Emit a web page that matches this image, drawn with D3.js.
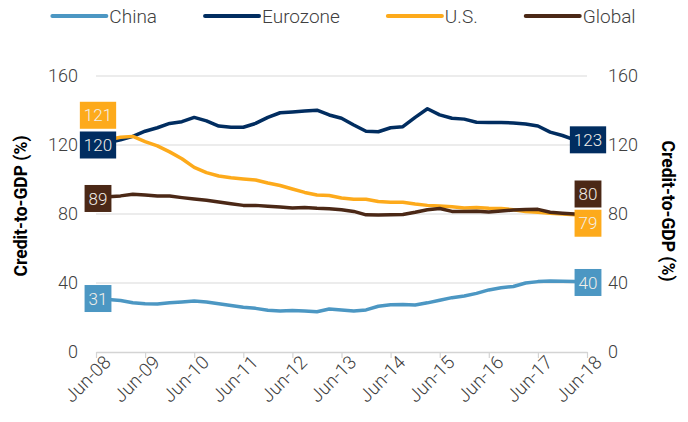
<!DOCTYPE html>
<html><head><meta charset="utf-8">
<script src="https://cdn.jsdelivr.net/npm/d3@7"></script>
<style>
html,body{margin:0;padding:0;background:#fff;}
svg{display:block;font-family:Roboto,"Noto Sans",sans-serif;}
</style></head>
<body><svg id="c" width="688" height="422"></svg>
<script>
// ---- data ----
const quarters = ["Jun-08","Sep-08","Dec-08","Mar-09","Jun-09","Sep-09","Dec-09","Mar-10","Jun-10","Sep-10","Dec-10","Mar-11","Jun-11","Sep-11","Dec-11","Mar-12","Jun-12","Sep-12","Dec-12","Mar-13","Jun-13","Sep-13","Dec-13","Mar-14","Jun-14","Sep-14","Dec-14","Mar-15","Jun-15","Sep-15","Dec-15","Mar-16","Jun-16","Sep-16","Dec-16","Mar-17","Jun-17","Sep-17","Dec-17","Mar-18","Jun-18"];
const tickLabels = ["Jun-08","Jun-09","Jun-10","Jun-11","Jun-12","Jun-13","Jun-14","Jun-15","Jun-16","Jun-17","Jun-18"];
const yTicks = [0,40,80,120,160];
const seriesNames = ["China","Eurozone","U.S.","Global"];
const china    = [31,30.5,29.8,28.5,28,27.8,28.5,29,29.5,29,28,27,26,25.3,24.2,23.8,24,23.8,23.3,24.9,24.3,23.8,24.4,26.5,27.4,27.5,27.2,28.5,30,31.5,32.5,34,36,37.2,38,40,40.8,41.1,41,40.8,40.3];
const eurozone = [120,121.5,123,125,128,130,132.5,133.5,136,134,131,130.3,130.3,132.5,136,138.7,139.2,139.7,140.2,137.4,135.5,131.6,128,127.7,130,130.6,136,141,137.5,135.5,135,133.2,133.1,133.1,132.8,132.2,131,127.5,125.5,123,123];
const us       = [121,123,124.5,125,122,119.5,116,112,107,104,102,101,100.3,99.7,98,96.5,94.5,92.5,91,90.7,89.3,88.5,88.5,87.2,86.8,86.8,85.8,85,84.7,84.2,83.5,83.8,83.3,83.2,82.5,81.5,81,80.5,80,79.5,79];
const global   = [89,90,90.5,91.5,91,90.5,90.4,89.5,88.7,88,87,86,85,85,84.5,84,83.5,83.8,83.3,83,82.5,81.5,79.5,79.4,79.5,79.7,81,82.5,83.2,81.5,81.5,81.6,81.2,81.8,82.3,82.6,82.7,81,80.5,80,80];
const seriesValues = [china, eurozone, us, global];

// ---- style ----
const colors = {"China":"#4c97c3","Eurozone":"#012d60","U.S.":"#fdaa1b","Global":"#4b2816"};
const labelNudge = {left:{"U.S.":-28}, right:{"Global":-20,"U.S.":7.5}};

const svg = d3.select("#c");
const M = {left:96, right:587, top:76, bottom:352};
const x = d3.scalePoint().domain(quarters).range([M.left, M.right]);
const y = d3.scaleLinear().domain([0,160]).range([M.bottom, M.top]);

// gridlines
svg.append("g").selectAll("line").data(yTicks.filter(d=>d>0)).join("line")
  .attr("x1",M.left).attr("x2",M.right)
  .attr("y1",d=>y(d)).attr("y2",d=>y(d))
  .attr("stroke","#d9d9d9").attr("stroke-width",1.2);

// x axis
const xAxis = svg.append("g").attr("transform",`translate(0,${M.bottom})`)
  .call(d3.axisBottom(x).tickValues(tickLabels).tickSize(6).tickSizeOuter(0));
xAxis.select(".domain").attr("stroke","#d4d4d4").attr("stroke-width",1.5);
xAxis.selectAll(".tick line").attr("stroke","#d4d4d4").attr("stroke-width",1.2);
xAxis.selectAll(".tick text")
  .attr("font-size",18.5).attr("font-family","Roboto").attr("fill","#404040").attr("font-weight",300)
  .attr("text-anchor","end").attr("dx","0.15em").attr("dy","0.6em").attr("y",8)
  .attr("transform","rotate(-45)");

// y axes
const yl = svg.append("g").attr("transform",`translate(${M.left},0)`)
  .call(d3.axisLeft(y).tickValues(yTicks).tickSize(0).tickPadding(18));
const yr = svg.append("g").attr("transform",`translate(${M.right},0)`)
  .call(d3.axisRight(y).tickValues(yTicks).tickSize(0).tickPadding(21));
[yl,yr].forEach(g=>{
  g.select(".domain").remove();
  g.selectAll(".tick text").attr("font-size",18).attr("font-family","Roboto").attr("font-weight",300).attr("fill","#404040");
});

// axis titles
svg.append("text").attr("transform","translate(27,206) rotate(-90)")
  .attr("text-anchor","middle").attr("font-size",17.5).attr("font-weight",700).attr("fill","#000")
  .text("Credit-to-GDP (%)");
svg.append("text").attr("transform","translate(662,211) rotate(90)")
  .attr("text-anchor","middle").attr("font-size",17.5).attr("font-weight",700).attr("fill","#000")
  .text("Credit-to-GDP (%)");

// lines
const line = d3.line().x((d,i)=>x(quarters[i])).y(d=>y(d)).curve(d3.curveLinear);
seriesNames.forEach((name,k)=>{
  svg.append("path").datum(seriesValues[k])
    .attr("d",line).attr("fill","none").attr("stroke",colors[name])
    .attr("stroke-width",3.5).attr("stroke-linejoin","round").attr("stroke-linecap","round");
});

// end labels
const fmt = d3.format(".0f");
function endLabel(name, vals, side){
  const v = side==="left" ? vals[0] : vals[vals.length-1];
  const cx = side==="left" ? x(quarters[0]) + 2 : x(quarters[quarters.length-1]) + 1;
  const cy = y(v) + ((labelNudge[side]||{})[name]||0);
  const g = svg.append("g");
  const t = g.append("text").attr("x",cx).attr("y",cy).attr("dy","0.36em")
    .attr("text-anchor","middle").attr("font-size",17).attr("font-weight",300)
    .attr("fill","#f2efe9").text(fmt(v));
  const w = t.node().getComputedTextLength() + 8;
  g.insert("rect","text").attr("x",cx-w/2).attr("y",cy-13.5).attr("width",w).attr("height",27)
    .attr("fill",colors[name]);
}
seriesNames.forEach((name,k)=>{ endLabel(name, seriesValues[k], "left"); endLabel(name, seriesValues[k], "right"); });

// legend
const lg = svg.append("g");
let cur = 0;
seriesNames.forEach(name=>{
  const g = lg.append("g").attr("transform",`translate(${cur},0)`);
  g.append("line").attr("x1",0).attr("x2",54).attr("y1",16).attr("y2",16)
    .attr("stroke",colors[name]).attr("stroke-width",4).attr("stroke-linecap","round");
  const t = g.append("text").attr("x",57).attr("y",16).attr("dy","0.36em")
    .attr("font-size",19).attr("font-weight",300).attr("fill","#404040").text(name);
  cur += 57 + t.node().getComputedTextLength() + 48;
});
const total = cur - 48;
lg.attr("transform",`translate(${344 - total/2},0)`);
</script></body></html>
